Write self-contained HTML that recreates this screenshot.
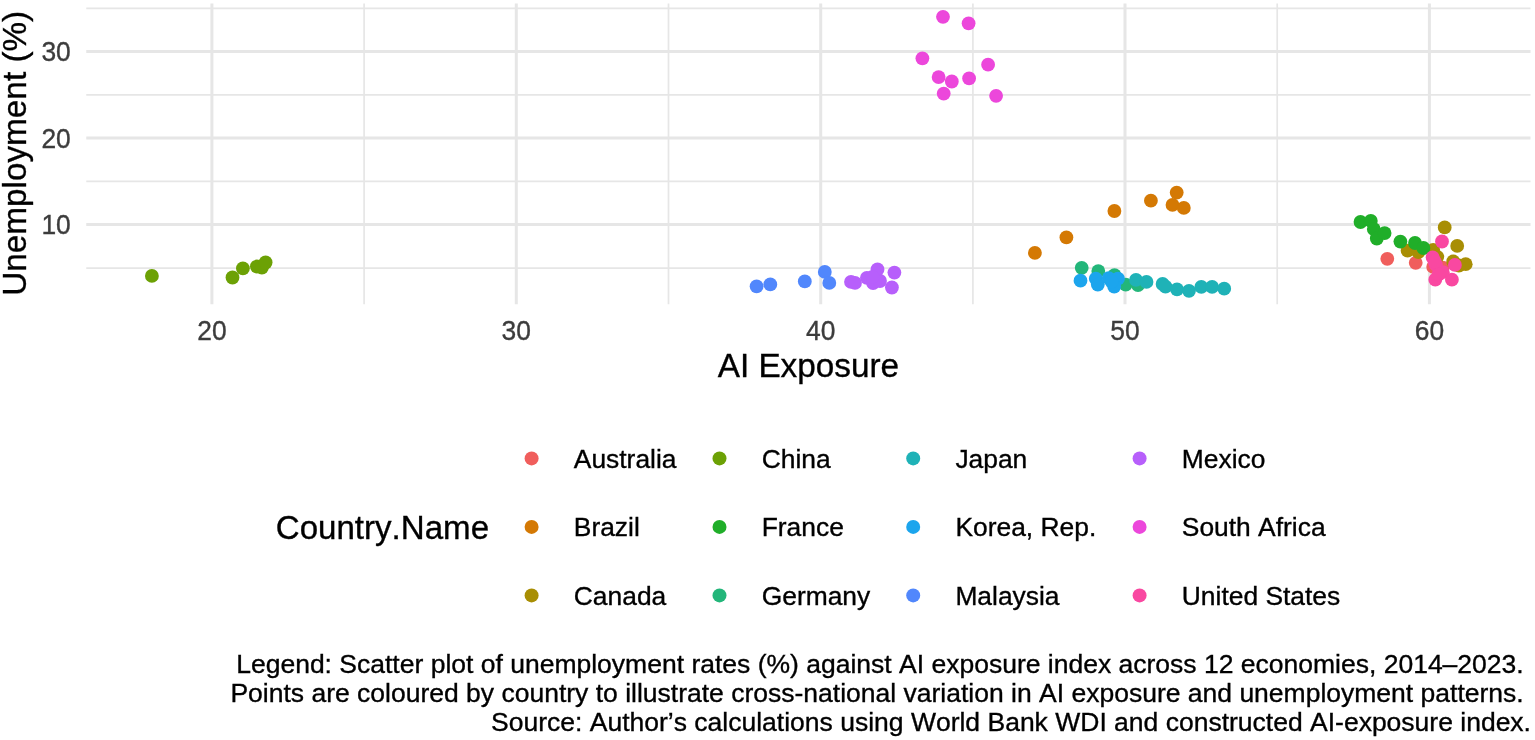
<!DOCTYPE html>
<html lang="en"><head><meta charset="utf-8"><title>Unemployment vs AI Exposure</title>
<style>html,body{margin:0;padding:0;background:#fff}body{width:1535px;height:740px;overflow:hidden}svg{display:block}text{font-kerning:none;stroke-width:0.35px;font-feature-settings:"kern" 0,"liga" 0;font-family:"Liberation Sans",Arial,Helvetica,sans-serif}</style></head><body>
<svg width="1535" height="740" viewBox="0 0 1535 740">
<rect width="1535" height="740" fill="#fff"/>
<g stroke="#E6E6E6" fill="none">
<line x1="86.25" x2="1530.50" y1="8.40" y2="8.40" stroke-width="1.7"/>
<line x1="86.25" x2="1530.50" y1="94.90" y2="94.90" stroke-width="1.7"/>
<line x1="86.25" x2="1530.50" y1="181.40" y2="181.40" stroke-width="1.7"/>
<line x1="86.25" x2="1530.50" y1="268.10" y2="268.10" stroke-width="1.7"/>
<line x1="364.10" x2="364.10" y1="3.60" y2="304.30" stroke-width="1.7"/>
<line x1="668.50" x2="668.50" y1="3.60" y2="304.30" stroke-width="1.7"/>
<line x1="972.90" x2="972.90" y1="3.60" y2="304.30" stroke-width="1.7"/>
<line x1="1277.20" x2="1277.20" y1="3.60" y2="304.30" stroke-width="1.7"/>
<line x1="86.25" x2="1530.50" y1="51.50" y2="51.50" stroke-width="3"/>
<line x1="86.25" x2="1530.50" y1="138.00" y2="138.00" stroke-width="3"/>
<line x1="86.25" x2="1530.50" y1="224.50" y2="224.50" stroke-width="3"/>
<line x1="211.90" x2="211.90" y1="3.60" y2="304.30" stroke-width="3"/>
<line x1="516.30" x2="516.30" y1="3.60" y2="304.30" stroke-width="3"/>
<line x1="820.70" x2="820.70" y1="3.60" y2="304.30" stroke-width="3"/>
<line x1="1125.00" x2="1125.00" y1="3.60" y2="304.30" stroke-width="3"/>
<line x1="1429.40" x2="1429.40" y1="3.60" y2="304.30" stroke-width="3"/>
</g>
<g fill="#F05E5C">
<circle cx="1387.3" cy="258.8" r="6.9"/>
<circle cx="1415.7" cy="262.8" r="6.9"/>
<circle cx="1433.2" cy="266.9" r="6.9"/>
<circle cx="1442.7" cy="267.6" r="6.9"/>
</g>
<g fill="#D47904">
<circle cx="1034.9" cy="252.8" r="6.9"/>
<circle cx="1066.4" cy="237.4" r="6.9"/>
<circle cx="1114.4" cy="211.0" r="6.9"/>
<circle cx="1150.9" cy="200.7" r="6.9"/>
<circle cx="1176.7" cy="192.6" r="6.9"/>
<circle cx="1172.5" cy="204.9" r="6.9"/>
<circle cx="1183.8" cy="207.9" r="6.9"/>
</g>
<g fill="#A88E04">
<circle cx="1444.7" cy="227.4" r="6.9"/>
<circle cx="1457.2" cy="245.9" r="6.9"/>
<circle cx="1407.6" cy="250.7" r="6.9"/>
<circle cx="1418.4" cy="252.0" r="6.9"/>
<circle cx="1433.2" cy="250.0" r="6.9"/>
<circle cx="1437.3" cy="256.8" r="6.9"/>
<circle cx="1453.2" cy="261.5" r="6.9"/>
<circle cx="1465.7" cy="264.2" r="6.9"/>
<circle cx="1458.9" cy="265.5" r="6.9"/>
</g>
<g fill="#6CA105">
<circle cx="151.9" cy="275.9" r="6.9"/>
<circle cx="232.5" cy="277.5" r="6.9"/>
<circle cx="242.9" cy="268.4" r="6.9"/>
<circle cx="256.9" cy="266.5" r="6.9"/>
<circle cx="261.9" cy="267.5" r="6.9"/>
<circle cx="265.6" cy="262.5" r="6.9"/>
</g>
<g fill="#20AE29">
<circle cx="1360.5" cy="222.0" r="6.9"/>
<circle cx="1370.8" cy="220.9" r="6.9"/>
<circle cx="1373.8" cy="229.1" r="6.9"/>
<circle cx="1376.8" cy="238.5" r="6.9"/>
<circle cx="1384.6" cy="233.1" r="6.9"/>
<circle cx="1400.4" cy="241.6" r="6.9"/>
<circle cx="1415.0" cy="243.0" r="6.9"/>
<circle cx="1423.4" cy="248.0" r="6.9"/>
</g>
<g fill="#23B67A">
<circle cx="1081.7" cy="267.8" r="6.9"/>
<circle cx="1098.3" cy="271.1" r="6.9"/>
<circle cx="1114.5" cy="275.2" r="6.9"/>
<circle cx="1125.7" cy="284.6" r="6.9"/>
<circle cx="1138.0" cy="285.2" r="6.9"/>
</g>
<g fill="#1FB2B7">
<circle cx="1136.0" cy="279.9" r="6.9"/>
<circle cx="1146.5" cy="281.9" r="6.9"/>
<circle cx="1162.6" cy="284.0" r="6.9"/>
<circle cx="1165.5" cy="286.6" r="6.9"/>
<circle cx="1177.0" cy="289.3" r="6.9"/>
<circle cx="1189.0" cy="290.8" r="6.9"/>
<circle cx="1201.3" cy="286.9" r="6.9"/>
<circle cx="1212.1" cy="286.9" r="6.9"/>
<circle cx="1224.2" cy="288.7" r="6.9"/>
</g>
<g fill="#1CA5ED">
<circle cx="1080.5" cy="280.7" r="6.9"/>
<circle cx="1095.8" cy="278.7" r="6.9"/>
<circle cx="1097.8" cy="284.6" r="6.9"/>
<circle cx="1108.7" cy="278.1" r="6.9"/>
<circle cx="1118.0" cy="278.7" r="6.9"/>
<circle cx="1114.2" cy="286.6" r="6.9"/>
<circle cx="1111.6" cy="281.7" r="6.9"/>
</g>
<g fill="#5187FC">
<circle cx="756.6" cy="286.3" r="6.9"/>
<circle cx="770.3" cy="284.4" r="6.9"/>
<circle cx="804.8" cy="281.4" r="6.9"/>
<circle cx="824.8" cy="271.9" r="6.9"/>
<circle cx="829.3" cy="282.9" r="6.9"/>
</g>
<g fill="#B75FFB">
<circle cx="851.0" cy="281.9" r="6.9"/>
<circle cx="855.0" cy="282.9" r="6.9"/>
<circle cx="866.9" cy="277.8" r="6.9"/>
<circle cx="877.5" cy="269.4" r="6.9"/>
<circle cx="894.4" cy="272.6" r="6.9"/>
<circle cx="891.9" cy="287.5" r="6.9"/>
<circle cx="873.1" cy="283.1" r="6.9"/>
<circle cx="880.0" cy="281.0" r="6.9"/>
<circle cx="872.5" cy="276.9" r="6.9"/>
</g>
<g fill="#EC47DB">
<circle cx="943.0" cy="16.8" r="6.9"/>
<circle cx="968.6" cy="23.3" r="6.9"/>
<circle cx="922.4" cy="58.3" r="6.9"/>
<circle cx="988.1" cy="64.7" r="6.9"/>
<circle cx="938.6" cy="77.1" r="6.9"/>
<circle cx="951.8" cy="81.5" r="6.9"/>
<circle cx="969.1" cy="78.4" r="6.9"/>
<circle cx="943.7" cy="93.6" r="6.9"/>
<circle cx="996.1" cy="95.8" r="6.9"/>
</g>
<g fill="#F948A1">
<circle cx="1442.0" cy="241.5" r="6.9"/>
<circle cx="1432.6" cy="257.4" r="6.9"/>
<circle cx="1454.9" cy="264.9" r="6.9"/>
<circle cx="1436.0" cy="264.9" r="6.9"/>
<circle cx="1442.8" cy="272.2" r="6.9"/>
<circle cx="1435.3" cy="279.7" r="6.9"/>
<circle cx="1451.9" cy="279.7" r="6.9"/>
<circle cx="1438.6" cy="274.3" r="6.9"/>
<circle cx="1434.6" cy="261.5" r="6.9"/>
</g>
<g font-size="26.4" fill="#3C3C3C" stroke="#3C3C3C">
<text transform="translate(70.8,61.1) scale(1,1.05)" text-anchor="end">30</text>
<text transform="translate(70.8,147.6) scale(1,1.05)" text-anchor="end">20</text>
<text transform="translate(70.8,234.1) scale(1,1.05)" text-anchor="end">10</text>
<text transform="translate(211.9,340.1) scale(1,1.05)" text-anchor="middle">20</text>
<text transform="translate(516.3,340.1) scale(1,1.05)" text-anchor="middle">30</text>
<text transform="translate(820.7,340.1) scale(1,1.05)" text-anchor="middle">40</text>
<text transform="translate(1125.0,340.1) scale(1,1.05)" text-anchor="middle">50</text>
<text transform="translate(1429.4,340.1) scale(1,1.05)" text-anchor="middle">60</text>
</g>
<text x="808.4" y="376.9" font-size="33.3" text-anchor="middle" fill="#000" stroke="#000">AI Exposure</text>
<text transform="translate(26.3,153.3) rotate(-90)" font-size="33.3" text-anchor="middle" fill="#000" stroke="#000">Unemployment (%)</text>
<text x="275.8" y="538.8" font-size="33.1" fill="#000" stroke="#000">Country.Name</text>
<g font-size="26.4" fill="#000">
<circle cx="531.6" cy="458.4" r="7" fill="#F05E5C"/>
<text x="573.8" y="467.8" stroke="#000">Australia</text>
<circle cx="531.6" cy="526.9" r="7" fill="#D47904"/>
<text x="573.8" y="536.3" stroke="#000">Brazil</text>
<circle cx="531.6" cy="595.4" r="7" fill="#A88E04"/>
<text x="573.8" y="604.8" stroke="#000">Canada</text>
<circle cx="719.5" cy="458.4" r="7" fill="#6CA105"/>
<text x="761.7" y="467.8" stroke="#000">China</text>
<circle cx="719.5" cy="526.9" r="7" fill="#20AE29"/>
<text x="761.7" y="536.3" stroke="#000">France</text>
<circle cx="719.5" cy="595.4" r="7" fill="#23B67A"/>
<text x="761.7" y="604.8" stroke="#000">Germany</text>
<circle cx="913.2" cy="458.4" r="7" fill="#1FB2B7"/>
<text x="955.4" y="467.8" stroke="#000">Japan</text>
<circle cx="913.2" cy="526.9" r="7" fill="#1CA5ED"/>
<text x="955.4" y="536.3" stroke="#000">Korea, Rep.</text>
<circle cx="913.2" cy="595.4" r="7" fill="#5187FC"/>
<text x="955.4" y="604.8" stroke="#000">Malaysia</text>
<circle cx="1139.6" cy="458.4" r="7" fill="#B75FFB"/>
<text x="1181.8" y="467.8" stroke="#000">Mexico</text>
<circle cx="1139.6" cy="526.9" r="7" fill="#EC47DB"/>
<text x="1181.8" y="536.3" stroke="#000">South Africa</text>
<circle cx="1139.6" cy="595.4" r="7" fill="#F948A1"/>
<text x="1181.8" y="604.8" stroke="#000">United States</text>
</g>
<g font-size="26.5" fill="#000" stroke="#000" text-anchor="end">
<text x="1523.7" y="672.9">Legend: Scatter plot of unemployment rates (%) against AI exposure index across 12 economies, 2014–2023.</text>
<text x="1523.7" y="702.3">Points are coloured by country to illustrate cross-national variation in AI exposure and unemployment patterns.</text>
<text x="1531" y="730.6">Source: Author’s calculations using World Bank WDI and constructed AI-exposure index.</text>
</g>
</svg></body></html>
